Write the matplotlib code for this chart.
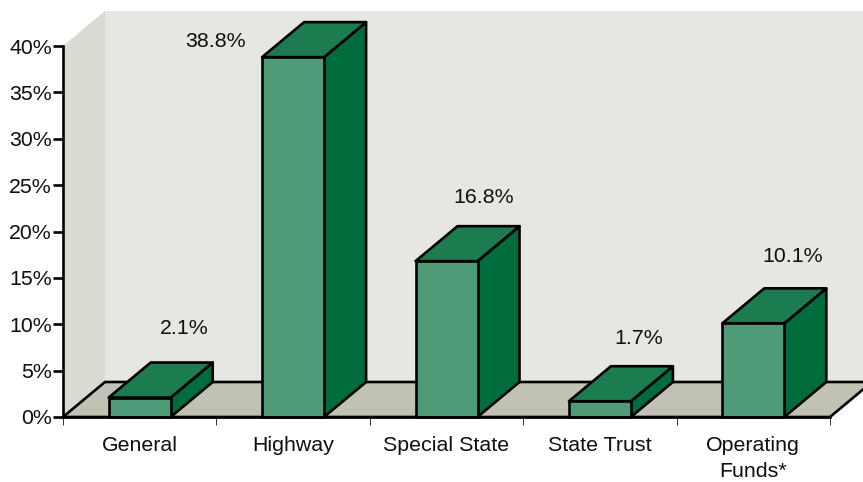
import matplotlib
matplotlib.use('Agg')
import matplotlib.pyplot as plt
from matplotlib.patches import Polygon

plt.rcParams['font.family'] = ['Liberation Sans', 'DejaVu Sans']
plt.rcParams['text.hinting'] = 'no_autohint'

categories = ['General', 'Highway', 'Special State', 'State Trust', 'Operating\nFunds*']
values = [2.1, 38.8, 16.8, 1.7, 10.1]
y_ticks = [0, 5, 10, 15, 20, 25, 30, 35, 40]

# label offsets from the front top centre of each bar, in pixels
label_dx = [45, -78, 37, 39, 39]
label_dy = [69, 16, 64, 63, 67]

wall_color = '#E6E7E1'
side_wall_color = '#D9DAD1'
floor_color = '#C1C2B3'
front_color = '#4F9A77'
top_color = '#1D7B50'
side_color = '#006B3B'

W, H = 863, 482
fig = plt.figure(figsize=(W / 100, H / 100), dpi=100)
ax = fig.add_axes([63 / W, (H - 417) / H, 767 / W, 371 / H])
ax.set_xlim(0, 5)
ax.set_ylim(0, 40)
ax.patch.set_visible(False)

# depth of the fake 3d, in data units
dx = 42 / (767 / 5)
dy = 35 / (371 / 40)
bar_w = 62 / (767 / 5)
lw = 1.9


def poly(pts, color, edge='none', z=1):
    p = Polygon(pts, closed=True, facecolor=color, edgecolor=edge, linewidth=lw,
                joinstyle='round', clip_on=False, zorder=z)
    ax.add_patch(p)


poly([(dx, dy), (5 + dx, dy), (5 + dx, 40 + dy), (dx, 40 + dy)], wall_color, z=1)
poly([(0, 0), (dx, dy), (dx, 40 + dy), (0, 40)], side_wall_color, z=1)
poly([(0, 0), (dx, dy), (5 + dx, dy), (5, 0)], floor_color, edge='black', z=2)

for i, v in enumerate(values):
    l = i + 0.5 - bar_w / 2
    r = i + 0.5 + bar_w / 2
    poly([(r, 0), (r + dx, dy), (r + dx, v + dy), (r, v)], side_color, edge='black', z=3)
    poly([(l, v), (r, v), (r + dx, v + dy), (l + dx, v + dy)], top_color, edge='black', z=3)
    poly([(l, 0), (r, 0), (r, v), (l, v)], front_color, edge='black', z=3)
    ax.annotate('{:.1f}%'.format(v), (i + 0.5, v), xytext=(label_dx[i] * 0.72, label_dy[i] * 0.72),
                textcoords='offset points', ha='center', va='center', fontsize=15.4, color='#111111')

for s in ['top', 'right']:
    ax.spines[s].set_visible(False)
ax.spines['left'].set_linewidth(lw)
ax.spines['left'].set_zorder(5)
ax.spines['bottom'].set_linewidth(lw)
ax.spines['bottom'].set_zorder(5)

ax.set_yticks(y_ticks)
ax.set_yticklabels(['{}%'.format(t) for t in y_ticks], fontsize=15.4, color='#111111')
ax.tick_params(axis='y', length=7, width=1.9, pad=1)

ax.set_xticks(range(6))
ax.set_xticklabels([])
ax.tick_params(axis='x', which='major', length=5.5, width=0.7, color='#333333')
ax.set_xticks([i + 0.5 for i in range(5)], minor=True)
ax.set_xticklabels(categories, minor=True, fontsize=15.4, color='#111111', linespacing=1.47)
ax.tick_params(axis='x', which='minor', length=0, pad=14)

fig.savefig('out.png', dpi=100)
